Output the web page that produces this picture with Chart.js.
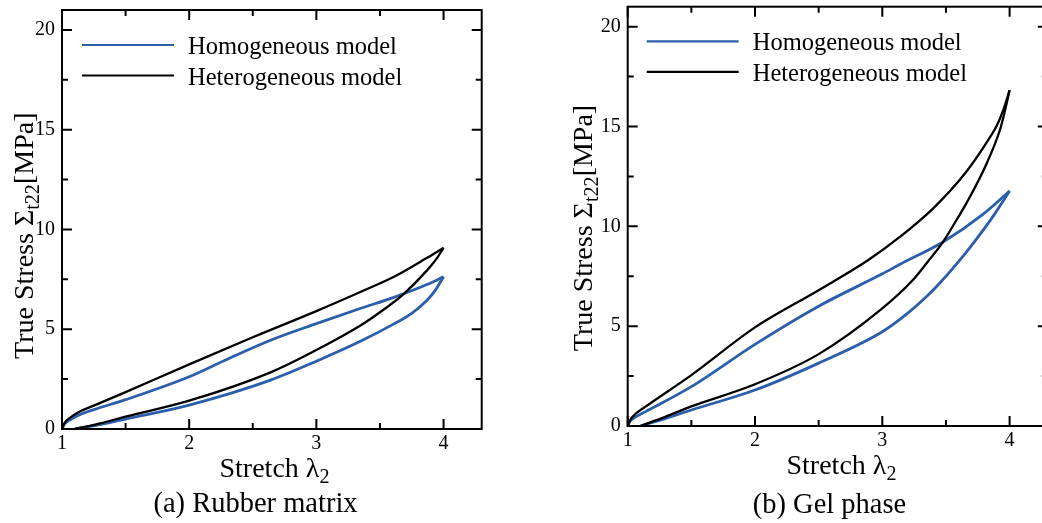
<!DOCTYPE html>
<html>
<head>
<meta charset="utf-8">
<script src="https://cdn.jsdelivr.net/npm/chart.js@4.4.1/dist/chart.umd.min.js"></script>
<style>
  html, body { margin: 0; padding: 0; background: #fff; overflow: hidden; width: 1042px; height: 523px; }
  canvas { position: absolute; top: 0; }
  #chartA { left: 0; }
  #chartB { left: 540px; }
</style>
</head>
<body>
<canvas id="chartA" width="490" height="523"></canvas>
<canvas id="chartB" width="520" height="523"></canvas>
<script>
// Nhan va vach chia truc
const seriesLabels = ['Homogeneous model', 'Heterogeneous model'];
const xTicks = [1, 2, 3, 4];
const xMinor = [1.5, 2.5, 3.5];
const yTicks = [0, 5, 10, 15, 20];
const yMinor = [2.5, 7.5, 12.5, 17.5];

// (a) Rubber matrix: [stretch, stress], duong tai va duong do tai (x tang dan)
const rubberHomLoad = [[1, 0], [1.02, 0.25], [1.06, 0.45], [1.14, 0.72], [1.25, 0.97], [1.5, 1.47], [2, 2.62], [2.3, 3.5], [2.64, 4.45], [3, 5.28], [3.35, 6.05], [3.61, 6.6], [3.87, 7.24], [4, 7.63]];
const rubberHomUnload = [[1.1, 0], [1.3, 0.22], [1.5, 0.5], [2, 1.2], [2.64, 2.45], [3, 3.4], [3.35, 4.41], [3.61, 5.27], [3.75, 5.8], [3.87, 6.45], [3.94, 7.0], [4, 7.63]];
const rubberHetLoad = [[1, 0], [1.02, 0.3], [1.06, 0.55], [1.14, 0.88], [1.25, 1.17], [1.5, 1.85], [2, 3.24], [2.5, 4.6], [3, 5.91], [3.35, 6.88], [3.61, 7.63], [3.87, 8.58], [4, 9.08]];
const rubberHetUnload = [[1.1, 0], [1.3, 0.28], [1.5, 0.62], [2, 1.42], [2.64, 2.84], [3, 3.96], [3.35, 5.2], [3.5, 5.85], [3.69, 6.79], [3.87, 7.95], [3.95, 8.58], [4, 9.08]];

// (b) Gel phase
const gelHomLoad = [[1, 0], [1.02, 0.25], [1.06, 0.45], [1.14, 0.72], [1.5, 1.97], [2, 4.09], [2.5, 6.0], [3, 7.62], [3.14, 8.1], [3.48, 9.23], [3.79, 10.6], [4, 11.77]];
const gelHomUnload = [[1.1, 0], [1.3, 0.38], [1.5, 0.8], [2, 1.8], [2.5, 3.15], [3, 4.72], [3.2, 5.65], [3.36, 6.56], [3.45, 7.15], [3.62, 8.4], [3.72, 9.2], [3.87, 10.5], [4, 11.77]];
const gelHetLoad = [[1, 0], [1.02, 0.3], [1.06, 0.6], [1.14, 0.97], [1.5, 2.55], [2, 4.94], [2.5, 6.8], [2.89, 8.31], [3.14, 9.48], [3.4, 10.9], [3.66, 12.73], [3.85, 14.5], [3.9, 15.05], [3.95, 15.82], [4, 16.82]];
const gelHetUnload = [[1.1, 0], [1.3, 0.47], [1.5, 0.98], [2, 2.09], [2.5, 3.6], [3, 5.89], [3.24, 7.31], [3.36, 8.25], [3.48, 9.25], [3.6, 10.5], [3.66, 11.15], [3.82, 13.15], [3.925, 14.85], [3.96, 15.7], [4, 16.82]];

const BLUE = '#2b5eab';
const BLACK = '#000000';
const FONT = '"Liberation Serif", "Times New Roman", serif';

function toPoints(pairs) {
    return pairs.map(p => ({ x: p[0], y: p[1] }));
}

// Ve chu co chi so duoi, can giua tai x, baseline tai y
function drawRich(ctx, parts, x, y, size) {
    const subSize = size * 0.72;
    let total = 0;
    parts.forEach(p => {
        ctx.font = (p[1] ? subSize : size) + 'px ' + FONT;
        total += ctx.measureText(p[0]).width;
    });
    let cx = x - total / 2;
    ctx.textAlign = 'left';
    ctx.textBaseline = 'alphabetic';
    parts.forEach(p => {
        ctx.font = (p[1] ? subSize : size) + 'px ' + FONT;
        ctx.fillText(p[0], cx, p[1] ? y + size * 0.22 : y);
        cx += ctx.measureText(p[0]).width;
    });
}

// Khung, vach chia huong vao trong, chu thich va tieu de truc
const framePlugin = {
    id: 'frameTicks',
    afterDraw(chart, args, opts) {
        const ctx = chart.ctx;
        const a = chart.chartArea;
        const xs = chart.scales.x;
        const ys = chart.scales.y;
        ctx.save();
        ctx.strokeStyle = '#000';
        ctx.lineWidth = 2;
        ctx.strokeRect(a.left, a.top, a.right - a.left, a.bottom - a.top);

        ctx.beginPath();
        const tickX = (v, len) => {
            const px = xs.getPixelForValue(v);
            ctx.moveTo(px, a.bottom); ctx.lineTo(px, a.bottom - len);
            ctx.moveTo(px, a.top); ctx.lineTo(px, a.top + len);
        };
        const tickY = (v, len) => {
            const py = ys.getPixelForValue(v);
            ctx.moveTo(a.left, py); ctx.lineTo(a.left + len, py);
            ctx.moveTo(a.right, py); ctx.lineTo(a.right - len, py);
        };
        xTicks.forEach(v => tickX(v, 10));
        xMinor.forEach(v => tickX(v, 6));
        yTicks.forEach(v => tickY(v, 10));
        yMinor.forEach(v => tickY(v, 6));
        ctx.stroke();

        // chu thich
        let row = 0;
        chart.data.datasets.forEach(ds => {
            if (!ds.label) return;
            const ly = a.top + opts.legendTop + row * 30.5;
            const lx = a.left + opts.legendLeft;
            ctx.strokeStyle = ds.borderColor;
            ctx.lineWidth = 2.2;
            ctx.beginPath();
            ctx.moveTo(lx, ly); ctx.lineTo(lx + 92, ly);
            ctx.stroke();
            ctx.fillStyle = '#000';
            ctx.font = '24.5px ' + FONT;
            ctx.textAlign = 'left';
            ctx.textBaseline = 'alphabetic';
            ctx.fillText(ds.label, lx + 106, ly + 9);
            row++;
        });

        // tieu de truc va chu thich hinh
        ctx.fillStyle = '#000';
        drawRich(ctx, [['Stretch \u03bb', false], ['2', true]], opts.xTitle[0], opts.xTitle[1], 28);
        ctx.save();
        ctx.translate(opts.yTitle[0], opts.yTitle[1]);
        ctx.rotate(-Math.PI / 2);
        drawRich(ctx, [['True Stress \u03a3', false], ['t22', true], ['[MPa]', false]], 0, 0, 28);
        ctx.restore();
        drawRich(ctx, [[opts.caption, false]], opts.captionPos[0], opts.captionPos[1], 28.5);
        ctx.restore();
    }
};

function makeChart(id, homLoad, homUnload, hetLoad, hetUnload, layout) {
    const line = (data, color, width, label, order) => ({
        label: label,
        data: toPoints(data),
        borderColor: color,
        borderWidth: width,
        showLine: true,
        pointRadius: 0,
        cubicInterpolationMode: 'monotone',
        order: order
    });
    return new Chart(document.getElementById(id), {
        type: 'scatter',
        data: {
            datasets: [
                line(homLoad, BLUE, 2.8, seriesLabels[0], 1),
                line(homUnload, BLUE, 2.8, '', 1),
                line(hetLoad, BLACK, 2.3, seriesLabels[1], 0),
                line(hetUnload, BLACK, 2.3, '', 0)
            ]
        },
        options: {
            responsive: false,
            animation: false,
            layout: { padding: { top: layout.top, right: layout.right, left: 0, bottom: 0 } },
            plugins: {
                legend: { display: false },
                tooltip: { enabled: false },
                frameTicks: layout
            },
            scales: {
                x: {
                    type: 'linear',
                    min: 1,
                    max: 4.3,
                    afterBuildTicks: s => { s.ticks = xTicks.map(v => ({ value: v })); },
                    afterFit: s => { s.height = layout.xHeight; s.paddingLeft = 0; s.paddingRight = 0; },
                    grid: { display: false, drawTicks: false },
                    border: { display: false },
                    ticks: { color: '#000', font: { family: FONT, size: 20 }, padding: 3, maxRotation: 0, autoSkip: false }
                },
                y: {
                    type: 'linear',
                    min: 0,
                    max: 21,
                    afterBuildTicks: s => { s.ticks = yTicks.map(v => ({ value: v })); },
                    afterFit: s => { s.width = layout.yWidth; s.paddingTop = 0; s.paddingBottom = 0; },
                    grid: { display: false, drawTicks: false },
                    border: { display: false },
                    ticks: { color: '#000', font: { family: FONT, size: 20 }, padding: 7, autoSkip: false }
                }
            }
        },
        plugins: [framePlugin]
    });
}

document.addEventListener('DOMContentLoaded', function () {
    makeChart('chartA', rubberHomLoad, rubberHomUnload, rubberHetLoad, rubberHetUnload, {
        top: 10, right: 8.3, xHeight: 94, yWidth: 62,
        legendLeft: 20, legendTop: 35,
        xTitle: [274.5, 477], yTitle: [33, 235.7],
        caption: '(a) Rubber matrix', captionPos: [255.5, 512]
    });
    makeChart('chartB', gelHomLoad, gelHomUnload, gelHetLoad, gelHetUnload, {
        top: 6.7, right: 12.2, xHeight: 97, yWidth: 87.7,
        legendLeft: 19, legendTop: 34.6,
        xTitle: [301.5, 473.5], yTitle: [51.5, 228],
        caption: '(b) Gel phase', captionPos: [289.5, 513]
    });
});
</script>
</body>
</html>
